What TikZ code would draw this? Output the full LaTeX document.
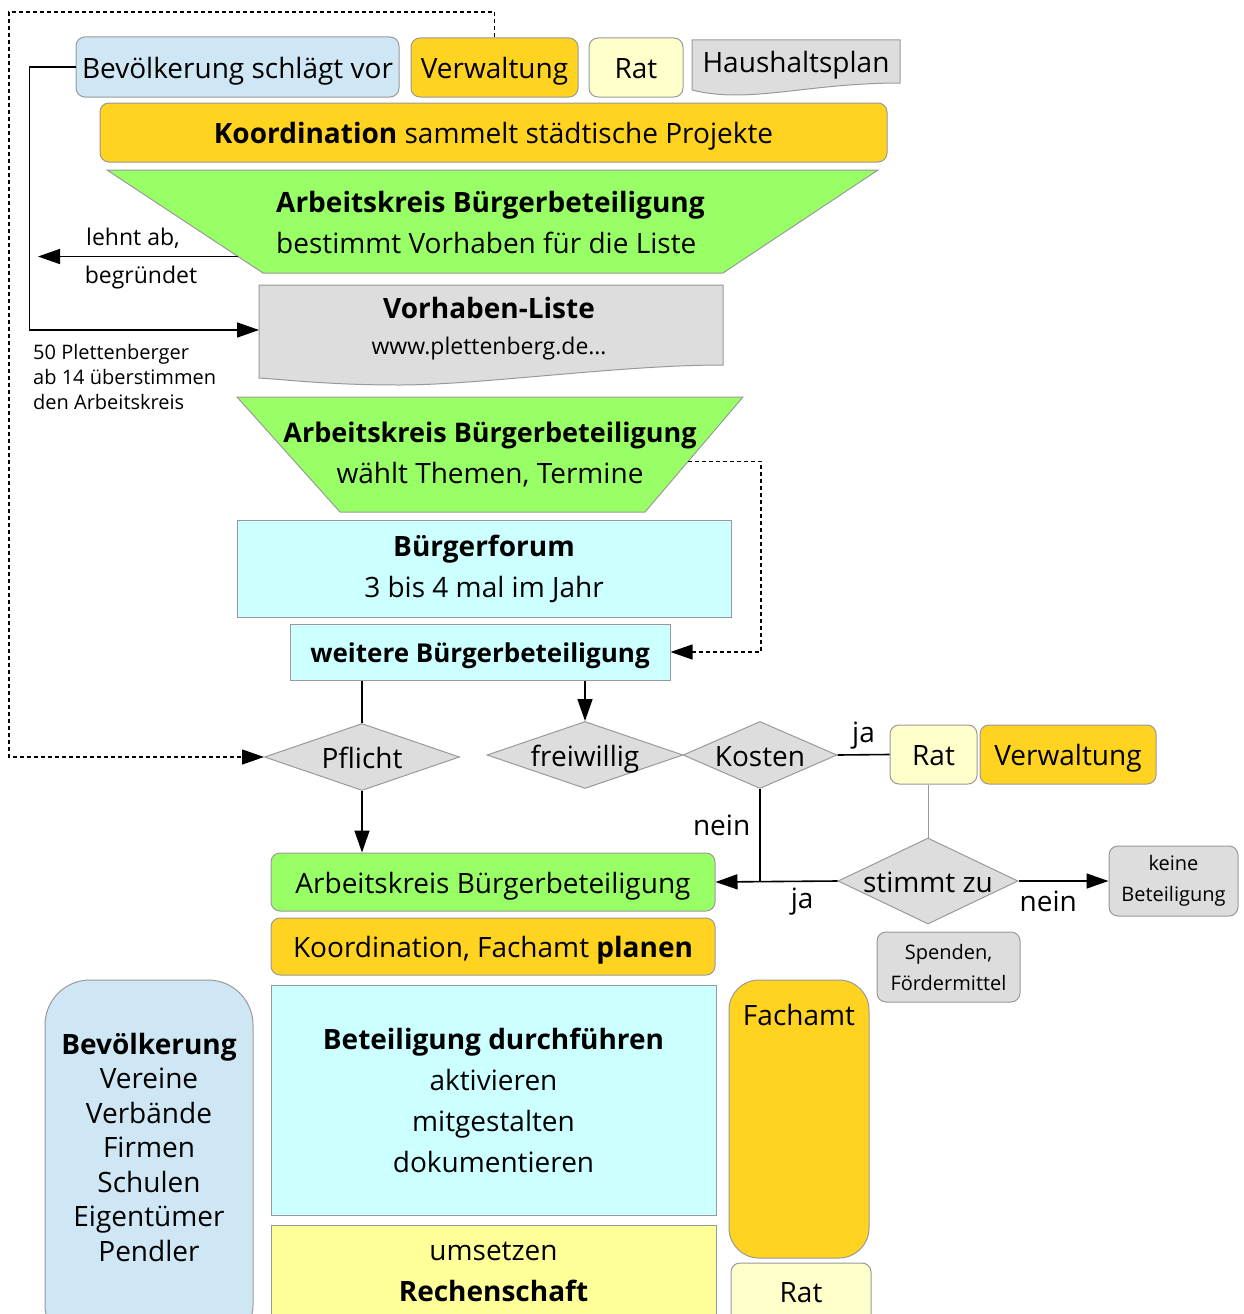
\documentclass[tikz,border=0pt]{standalone}
\usepackage{fontspec}
\setmainfont{Open Sans}
\usetikzlibrary{arrows.meta,calc,shapes.geometric}

\definecolor{blau}{HTML}{CFE7F5}
\definecolor{gold}{HTML}{FFD320}
\definecolor{hellgelb}{HTML}{FFFFCC}
\definecolor{gelb}{HTML}{FFFF99}
\definecolor{gruen}{HTML}{99FF66}
\definecolor{tuerkis}{HTML}{CCFFFF}
\definecolor{grau}{HTML}{DDDDDD}
\definecolor{rand}{HTML}{999999}

\newcommand{\gross}{\fontsize{28}{41}\selectfont}
\newcommand{\mittel}{\fontsize{23}{31}\selectfont}
\newcommand{\klein}{\fontsize{20}{25}\selectfont}

\begin{document}
\begin{tikzpicture}[x=1pt,y=-1pt,
  every node/.style={font=\gross, inner sep=0pt},
  zeile/.style={text height=30pt, text depth=8pt},
  kasten/.style={draw=rand, line width=1pt, align=center},
  rund/.style={kasten, rounded corners=9pt},
  raute/.style={kasten, diamond, fill=grau},
  linie/.style={line width=1.6pt},
  pfeil/.style={linie, -{Triangle[length=22pt,width=15pt]}},
  punkte/.style={line width=1.3pt, dash pattern=on 4pt off 3pt, -{Triangle[length=22pt,width=15pt]}}]
\useasboundingbox (0,0) rectangle (1243,1314);

% Vorschlag
\node[rund, zeile, fill=blau, minimum width=323pt, minimum height=60pt] (bev) at (237.5,67) {Bevölkerung schlägt vor};
\node[rund, zeile, fill=gold, minimum width=167pt, minimum height=59pt] (verw) at (494.5,67.5) {Verwaltung};
\node[rund, zeile, fill=hellgelb, minimum width=94pt, minimum height=59pt] (rat) at (636,67.5) {Rat};
\draw[kasten, fill=grau] (692,40) -- (900,40) -- (900,83) .. controls (830,83) and (780,95) .. (735,95) .. controls (715,95) and (700,92) .. (692,90) -- cycle;
\node[zeile] (haushalt) at (796,62) {Haushaltsplan};
\node[rund, zeile, fill=gold, minimum width=787pt, minimum height=59pt] (koord) at (493.5,132.5) {\textbf{Koordination} sammelt städtische Projekte};

\draw[kasten, fill=gruen] (107,170) coordinate (ak1nw) -- (878,170) -- (723,273) -- (263,273) coordinate (ak1sw) -- cycle;
\node[align=left, anchor=west] (ak1) at (276,222) {\textbf{Arbeitskreis Bürgerbeteiligung}\\bestimmt Vorhaben für die Liste};

\coordinate (ak1links) at ($(ak1nw)!0.84!(ak1sw)$);
\coordinate (abgelehnt) at (38,257);
\draw[pfeil] (ak1links) -- (ak1links -| abgelehnt);
\node[font=\mittel] (lehnt) at (133,238) {lehnt ab,};
\node[font=\mittel] (begruendet) at (141,278) {begründet};

% Liste
\draw[kasten, fill=grau] (259,285) -- (723,285) -- (723,365) .. controls (620,365) and (480,385) .. (400,385) .. controls (330,385) and (290,380) .. (259,378) -- cycle;
\coordinate (listein) at (259,330);
\node[align=center] (vorhaben) at (489,329) {\textbf{Vorhaben-Liste}\\[-5pt]{\mittel www.plettenberg.de…}};
\draw[pfeil] (bev.west) -- ++(-46,0) |- (listein);
\node[font=\klein, align=left, anchor=north west] (ueberstimmen) at (33,344) {50 Plettenberger\\ab 14 überstimmen\\den Arbeitskreis};

\draw[kasten, fill=gruen] (237,397) -- (743,397) coordinate (ak2ne) -- (645,512) coordinate (ak2se) -- (340,512) -- cycle;
\node[align=center, font=\fontsize{27}{41}\selectfont] (wahl) at (490,455) {\textbf{Arbeitskreis Bürgerbeteiligung}\\\fontsize{28}{41}\selectfont wählt Themen, Termine};

\node[kasten, fill=tuerkis, minimum width=494pt, minimum height=97pt] (forum) at (484,568.5) {\textbf{Bürgerforum}\\3 bis 4 mal im Jahr};
\node[kasten, fill=tuerkis, minimum width=380pt, minimum height=56pt, text height=28pt, text depth=7pt, font=\fontsize{26}{30}\selectfont\bfseries] (weitere) at (480,652) {weitere Bürgerbeteiligung};
\draw[punkte] ($(ak2ne)!0.56!(ak2se)$) -- ++(73,0) |- (weitere.east);

% Entscheidung
\node[raute, minimum width=195pt, minimum height=67pt, label={[zeile]center:Pflicht}] (pflicht) at (362,757) {};
\node[raute, minimum width=196pt, minimum height=67pt, label={[zeile]center:freiwillig}] (frei) at (585,755) {};
\node[raute, minimum width=154pt, minimum height=67pt, label={[zeile]center:Kosten}] (kosten) at (760,755) {};
\node[rund, zeile, fill=hellgelb, minimum width=87pt, minimum height=59pt] (rat2) at (933.5,754.5) {Rat};
\node[rund, zeile, fill=gold, minimum width=176pt, minimum height=59pt] (verw2) at (1068,754.5) {Verwaltung};
\node[raute, minimum width=180pt, minimum height=86pt, label={[zeile]center:stimmt zu}] (stimmt) at (928,881) {};
\node[rund, fill=grau, minimum width=129pt, minimum height=70pt, font=\fontsize{20}{31}\selectfont] (keine) at (1173.5,881) {keine\\Beteiligung};
\node[rund, fill=grau, minimum width=143pt, minimum height=70pt, font=\fontsize{20}{31}\selectfont] (spenden) at (948.5,967) {Spenden,\\Fördermittel};

\coordinate (ecke) at (9,12);
\draw[punkte] (verw.north) |- (ecke) |- (pflicht.west);

% Umsetzung
\node[rund, zeile, fill=gruen, minimum width=444pt, minimum height=58pt] (ak3) at (493,882) {Arbeitskreis Bürgerbeteiligung};
\node[rund, zeile, fill=gold, minimum width=444pt, minimum height=57pt] (planen) at (493,946.5) {Koordination, Fachamt \textbf{planen}};
\node[kasten, fill=tuerkis, minimum width=445pt, minimum height=230pt] (durch) at (493.5,1100) {\textbf{Beteiligung durchführen}\\aktivieren\\mitgestalten\\dokumentieren};
\node[kasten, fill=gelb, minimum width=445pt, minimum height=120pt] (umsetzbox) at (493.5,1285) {};
\node[align=center] (umsetzen) at (493.5,1272) {umsetzen\\\textbf{Rechenschaft}};
\node[kasten, fill=blau, rounded corners=45pt, minimum width=208pt, minimum height=370pt] (bevbox) at (149,1165) {};
\node[align=center, font=\fontsize{28}{34.5}\selectfont] (bevtext) at (149,1147) {\textbf{Bevölkerung}\\Vereine\\Verbände\\Firmen\\Schulen\\Eigentümer\\Pendler};
\node[kasten, fill=gold, rounded corners=30pt, minimum width=140pt, minimum height=278pt] (fachamt) at (799,1119) {};
\node[zeile] (fachtext) at (799,1014) {Fachamt};
\node[rund, fill=hellgelb, minimum width=140pt, minimum height=70pt] (rat3) at (801,1298) {};
\node[zeile] (rattext) at (801,1291) {Rat};

\draw[linie] (pflicht.north |- weitere.south) -- (pflicht.north);
\draw[pfeil] (frei.north |- weitere.south) -- (frei.north);
\draw[pfeil] (pflicht.south) -- (pflicht.south |- ak3.north);
\draw[linie] (kosten.east) -- (rat2.west) node[midway, above=5pt] (ja1) {ja};
\draw[draw=rand, line width=1pt] (stimmt.north |- rat2.south) -- (stimmt.north);
\draw[pfeil] (stimmt.east) -- (keine.west) node[pos=0.33, below=9.5pt] (nein2) {nein};
\draw[pfeil] (stimmt.west) -- (ak3.east) node[pos=0.29, below=6pt] (ja2) {ja};
\draw[linie] (kosten.south) -- (kosten.south |- stimmt.west) node[pos=0.4, left=9pt] (nein1) {nein};
\end{tikzpicture}
\end{document}
